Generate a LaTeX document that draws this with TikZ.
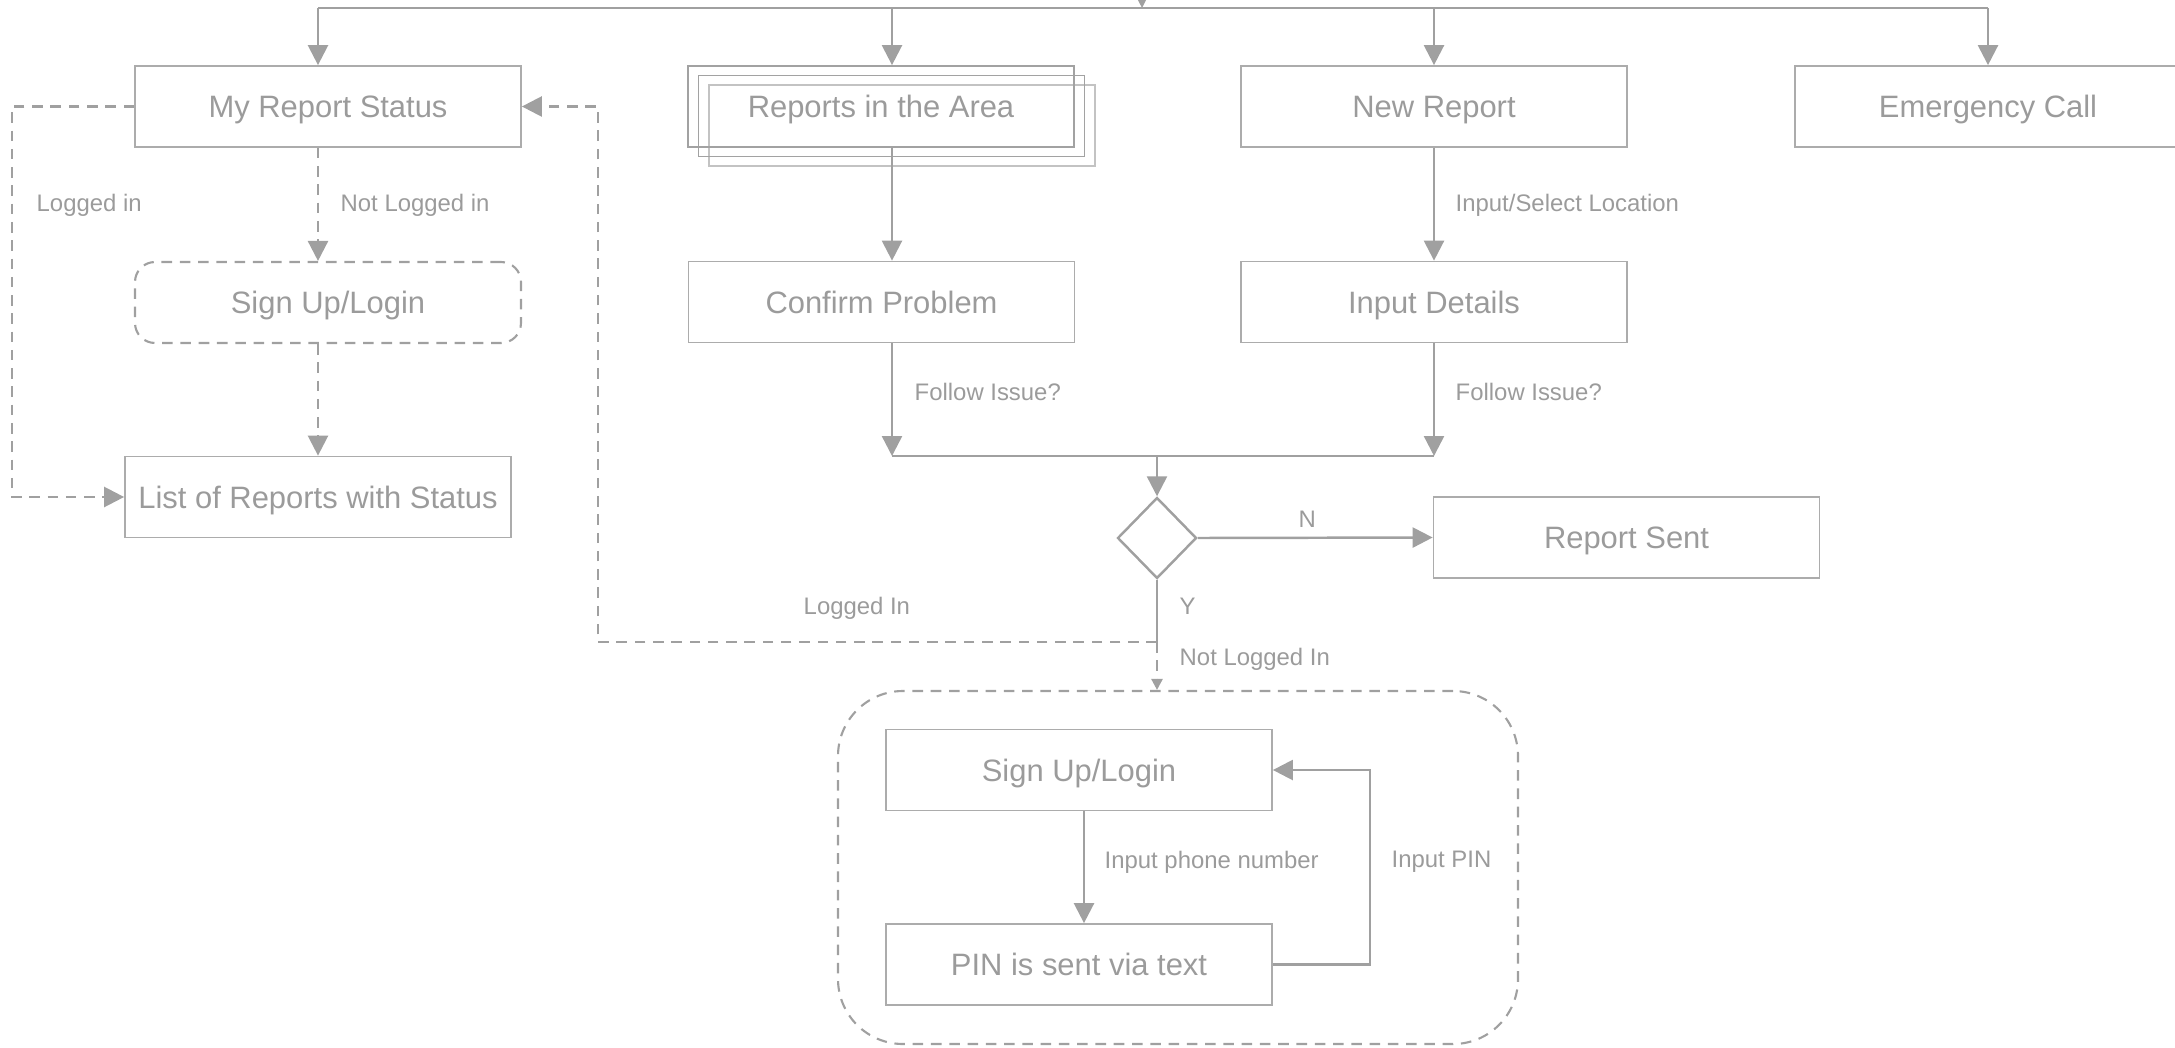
\documentclass[tikz,border=0pt]{standalone}
\usepackage{fontspec}
\setmainfont{Liberation Sans}
\usetikzlibrary{arrows.meta,shapes.geometric,calc}
\definecolor{lc}{RGB}{160,160,160}
\definecolor{tc}{RGB}{155,155,155}
\definecolor{bc}{RGB}{172,172,172}
\definecolor{bdark}{RGB}{162,162,162}
\definecolor{blight}{RGB}{195,195,195}
\begin{document}
\begin{tikzpicture}[x=0.1mm,y=-0.1mm,
 box/.style={draw=bc, line width=0.5pt, minimum width=38.6mm, minimum height=8.1mm, inner sep=0pt, text=tc, text height=8.4pt, text depth=2pt, font=\fontsize{8.8}{11}\selectfont},
 lab/.style={text=tc, font=\fontsize{6.8}{8}\selectfont, anchor=west, inner sep=0pt},
 conn/.style={draw=lc, line width=0.7pt},
 arr/.style={conn, -{Triangle[length=2mm,width=2mm]}},
 dsh/.style={dash pattern=on 3pt off 2.2pt}]
\useasboundingbox (0,0) rectangle (2175,1047);

% group container
\node[draw=lc, line width=0.6pt, dsh, rounded corners=6.5mm, minimum width=68mm, minimum height=35.3mm, inner sep=0pt] (grp) at (1178,867.5) {};

% boxes
\node[box] (msr) at (328,106.5) {My Report Status};
\node[box, draw=lc, line width=0.6pt, dsh, rounded corners=2mm] (sul1) at (328,302.5) {Sign Up/Login};
\node[box] (list) at (318,497) {List of Reports with Status};
\node[box, draw=blight] (rita3) at (902,125.5) {};
\node[box, draw=bdark] (rita2) at (891.5,116) {};
\node[box, draw=bdark] (rita) at (881,106.5) {Reports in the Area};
\node[box] (conf) at (881.5,302) {Confirm Problem};
\node[box] (nr) at (1434,106.5) {New Report};
\node[box] (ec) at (1988,106.5) {Emergency Call};
\node[box] (id) at (1434,302) {Input Details};
\node[box] (rs) at (1626.5,537.5) {Report Sent};
\node[diamond, draw=lc, line width=0.7pt, minimum width=7.9mm, minimum height=8.1mm, inner sep=0pt] (dia) at (1157,538) {};
\node[box] (sul2) at (1079,770) {Sign Up/Login};
\node[box] (pin) at (1079,964.5) {PIN is sent via text};

% coordinates
\coordinate (busL) at (318,8);
\coordinate (busA) at (892,8);
\coordinate (busN) at (1434,8);
\coordinate (busR) at (1988,8);
\coordinate (busIn) at (1142,8);
\coordinate (inTop) at (1142,-40);
\coordinate (lx) at (12,0);
\coordinate (jY) at (1157,642);
\coordinate (rx) at (598,642);
\coordinate (jA) at (892,456);
\coordinate (jN) at (1434,456);
\coordinate (jM) at (1157,456);
\coordinate (px) at (1084,0);
\coordinate (lpx) at (1370,0);

% top bus
\draw[conn] (busL) -- (busR);
\draw[arr] (inTop) -- (busIn);
\draw[arr] (busL) -- (busL |- msr.north);
\draw[arr] (busA) -- (busA |- rita.north);
\draw[arr] (busN) -- (nr.north);
\draw[arr] (busR) -- (ec.north);

% my report status branch
\draw[arr, dsh] (busL |- msr.south) -- (busL |- sul1.north);
\draw[arr, dsh] (busL |- sul1.south) -- (list.north);
\draw[arr, dsh] (msr.west) -- (lx |- msr.west) -- (lx |- list.west) -- (list.west);

% reports in area / new report
\draw[arr] (busA |- rita.south) -- (busA |- conf.north);
\draw[arr] (busA |- conf.south) -- (jA);
\draw[arr] (nr.south) -- (id.north);
\draw[arr] (id.south) -- (jN);
\draw[conn] (jA) -- (jN);
\draw[arr] (jM) -- (dia.north);
\draw[arr] (dia.east) -- (rs.west);
\draw[conn] (dia.south) -- (jY);
\draw[arr, dsh] (jY) -- (rx) -- (rx |- msr.east) -- (msr.east);
\draw[conn, dsh, -{Triangle[length=1.1mm,width=1.1mm]}] (jY) -- (jY |- grp.north);

% login group
\draw[arr] (px |- sul2.south) -- (px |- pin.north);
\draw[arr] (pin.east) -- (lpx |- pin.east) -- (lpx |- sul2.east) -- (sul2.east);

% labels
\node[lab] (l1) at (36,205) {Logged in};
\node[lab] (l2) at (340,205) {Not Logged in};
\node[lab] (l3) at (914,392) {Follow Issue?};
\node[lab] (l4) at (1455,205) {Input/Select Location};
\node[lab] (l5) at (1455,392) {Follow Issue?};
\node[lab] (l6) at (1298,519) {N};
\node[lab] (l7) at (1179,606) {Y};
\node[lab] (l8) at (803,608) {Logged In};
\node[lab] (l9) at (1179,659) {Not Logged In};
\node[lab] (l10) at (1104,862) {Input phone number};
\node[lab] (l11) at (1391,862) {Input PIN};
\end{tikzpicture}
\end{document}
